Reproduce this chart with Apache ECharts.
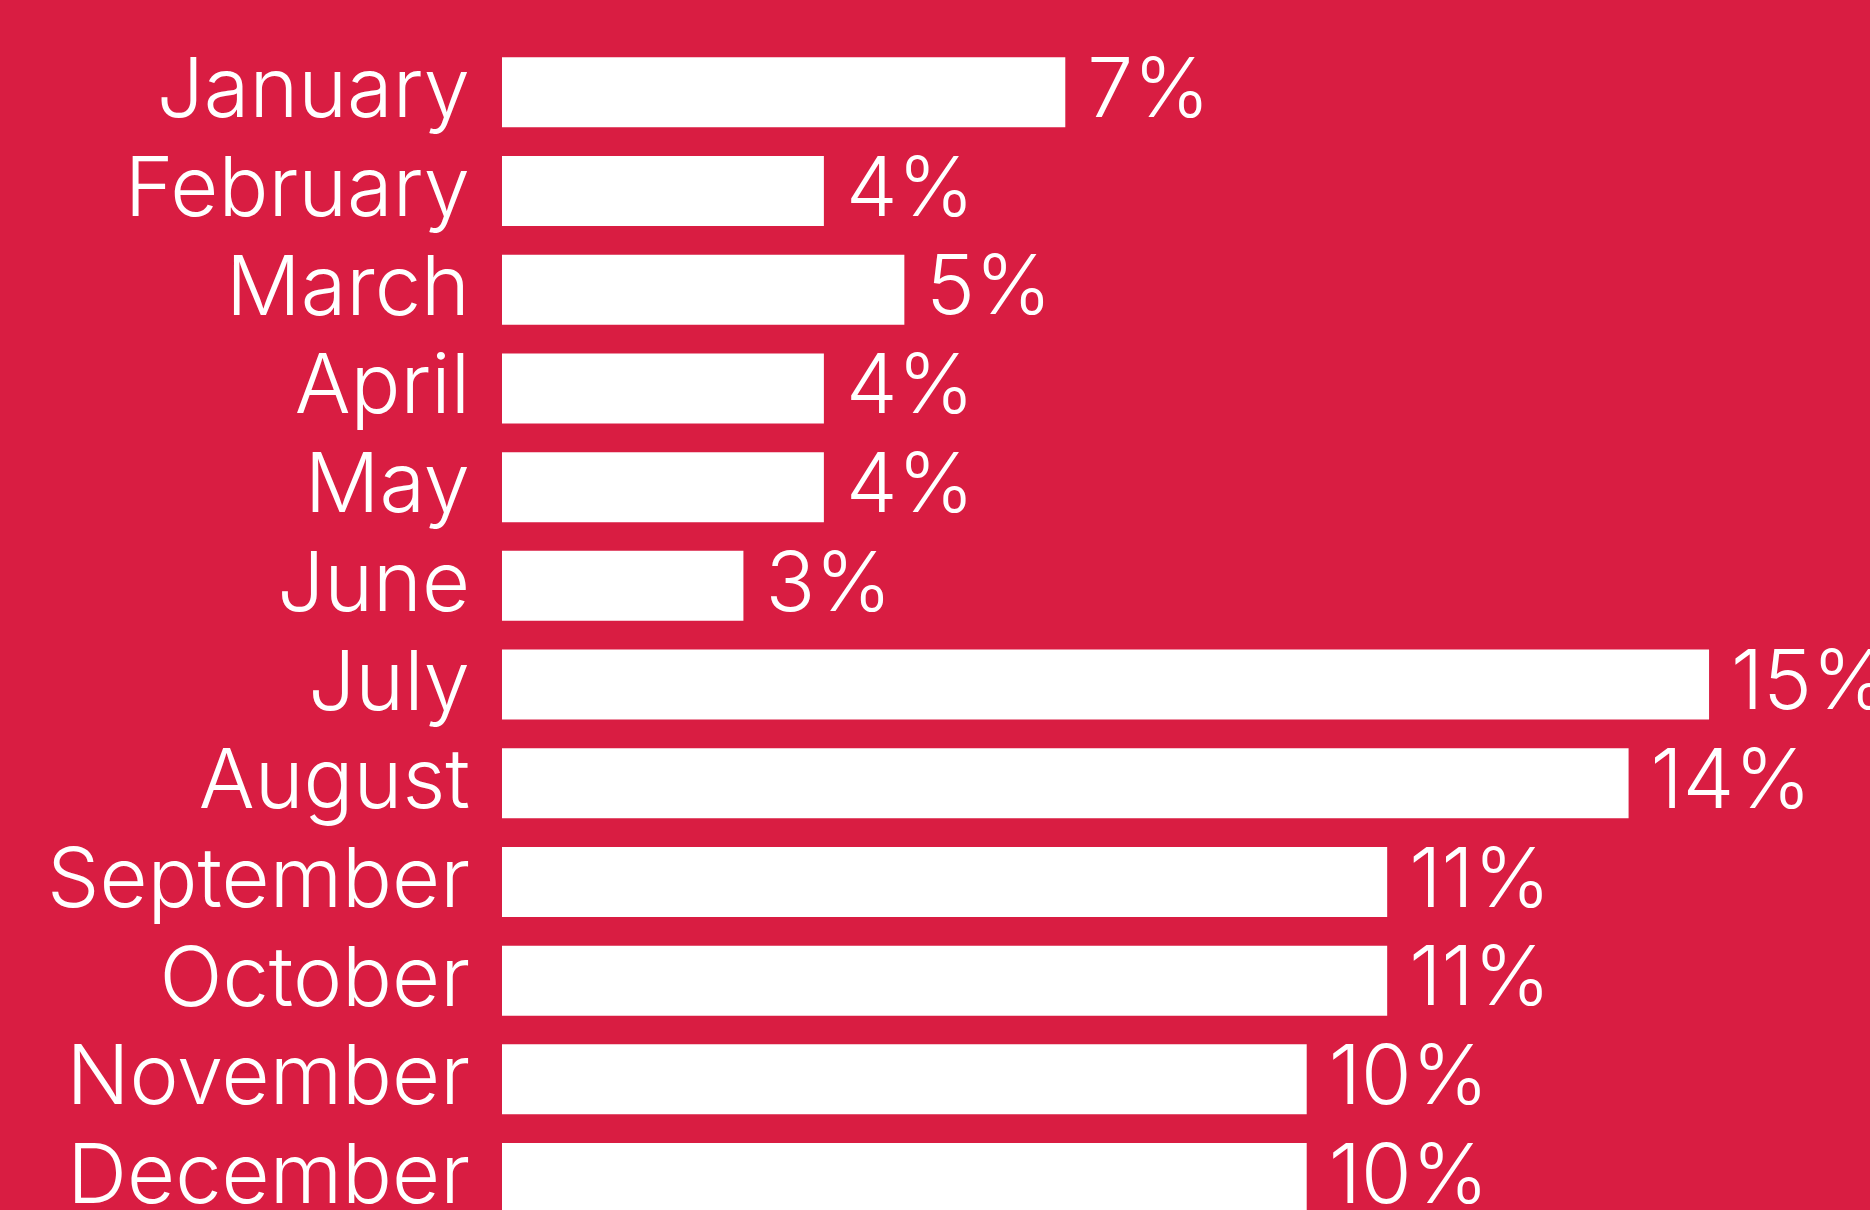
<!DOCTYPE html>
<html>
<head>
<meta charset="utf-8">
<script src="https://cdn.jsdelivr.net/npm/echarts@6/dist/echarts.min.js"></script>
<style>
html,body{margin:0;padding:0;background:#D91D42;}
#c{width:1870px;height:1210px;}
</style>
</head>
<body>
<div id="c"></div>
<script>
const months = ['January','February','March','April','May','June','July','August','September','October','November','December'];
const shares = [7,4,5,4,4,3,15,14,11,11,10,10];

const FONT = 'Inter';
const chart = echarts.init(document.getElementById('c'), null, {renderer:'canvas'});
chart.setOption({
  backgroundColor:'#D91D42',
  animation:false,
  grid:{left:502, right:0, top:43, height:1184.4, containLabel:false, outerBoundsMode:'none'},
  xAxis:{type:'value', min:0, max:17, show:false},
  yAxis:{
    type:'category', data:months, inverse:true,
    axisLine:{show:false}, axisTick:{show:false}, splitLine:{show:false},
    axisLabel:{interval:0, color:'#fff', fontSize:83, fontFamily:FONT, fontWeight:300, margin:32}
  },
  series:[{
    type:'bar', data:shares, barWidth:70,
    itemStyle:{color:'#fff'},
    label:{show:true, position:'right', distance:22, color:'#fff', fontSize:82, fontFamily:FONT, fontWeight:300,
      formatter: p => p.value + '%'}
  }]
});
</script>
</body>
</html>
